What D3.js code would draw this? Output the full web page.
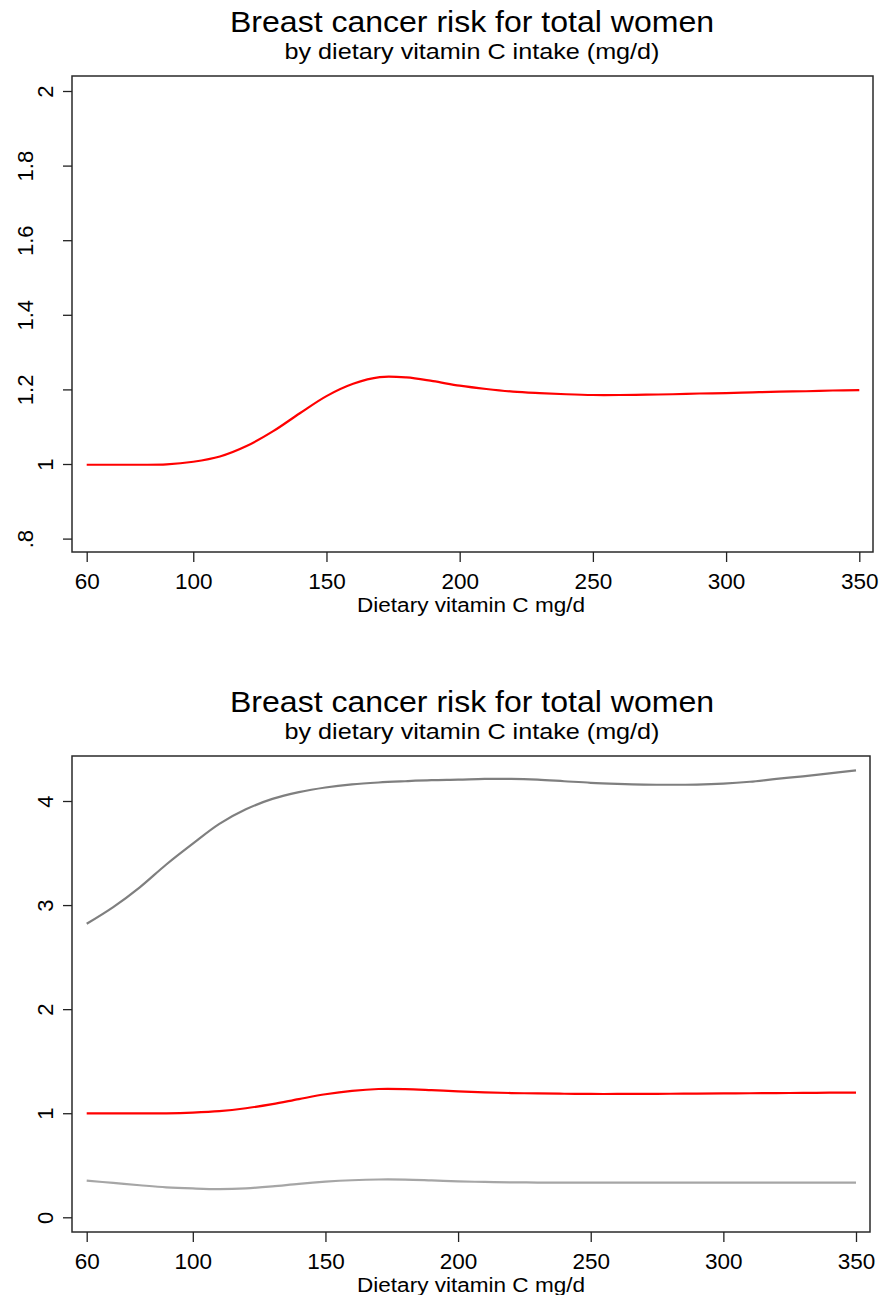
<!DOCTYPE html>
<html>
<head>
<meta charset="utf-8">
<style>
  body { margin: 0; background: #fff; }
  svg text { font-family: "Liberation Sans", Arial, sans-serif; fill: #000; }
</style>
</head>
<body>
<div id="chart"></div>
<script src="https://cdn.jsdelivr.net/npm/d3@7"></script>
<script>
// data
const vitC = [60, 70, 80, 90, 100, 110, 120, 130, 140, 150, 160, 170, 180, 190, 200,
              210, 220, 230, 240, 250, 260, 270, 280, 290, 300, 310, 320, 330, 340, 350];
const rrEst = [0.998, 0.998, 0.998, 0.999, 1.006, 1.02, 1.048, 1.088, 1.136, 1.182,
               1.215, 1.233, 1.232, 1.222, 1.21, 1.201, 1.194, 1.19, 1.187, 1.185,
               1.185, 1.186, 1.187, 1.189, 1.19, 1.192, 1.194, 1.195, 1.197, 1.198];
const ciUpper = [2.82, 2.98, 3.17, 3.39, 3.59, 3.78, 3.92, 4.02, 4.085, 4.13,
                 4.16, 4.178, 4.19, 4.2, 4.205, 4.212, 4.213, 4.205, 4.19, 4.175,
                 4.165, 4.158, 4.156, 4.158, 4.167, 4.185, 4.212, 4.237, 4.265, 4.294];
const ciLower = [0.352, 0.33, 0.308, 0.288, 0.277, 0.271, 0.278, 0.297, 0.322, 0.342,
                 0.356, 0.363, 0.362, 0.354, 0.345, 0.34, 0.336, 0.334, 0.333, 0.333,
                 0.333, 0.333, 0.333, 0.333, 0.333, 0.333, 0.333, 0.333, 0.333, 0.333];

const xTicks = [60, 100, 150, 200, 250, 300, 350];
const yTicksTop = [0.8, 1, 1.2, 1.4, 1.6, 1.8, 2];
const yTicksBottom = [0, 1, 2, 3, 4];

const titleText = 'Breast cancer risk for total women';
const subtitleText = 'by dietary vitamin C intake (mg/d)';
const xTitle = 'Dietary vitamin C mg/d';

const W = 882, H = 1295;
const svg = d3.select('#chart').append('svg')
  .attr('width', W).attr('height', H);

const fmt = v => {
  let s = String(v);
  if (s.startsWith('0.')) s = s.slice(1);
  return s;
};

function panel(cfg) {
  const g = svg.append('g').attr('transform', `translate(0,${cfg.top})`);
  const box = {x0: 72, x1: cfg.right, y0: 76, y1: 552};

  // x: domain 60..350 maps onto tick positions, y likewise
  const x = d3.scaleLinear().domain([60, 350]).range([86.7, cfg.x350]);
  const y = d3.scaleLinear().domain(cfg.yRef).range([cfg.yPix[0], cfg.yPix[1]]);

  // the reference text is a little wider than Arial, so stretch to fit
  g.append('text').attr('x', 472).attr('y', 32)
    .attr('text-anchor', 'middle').style('font-size', '29px')
    .attr('textLength', 484).attr('lengthAdjust', 'spacingAndGlyphs')
    .text(titleText);
  g.append('text').attr('x', 472).attr('y', 59)
    .attr('text-anchor', 'middle').style('font-size', '22px')
    .attr('textLength', 375).attr('lengthAdjust', 'spacingAndGlyphs')
    .text(subtitleText);

  const line = d3.line().x((d, i) => x(vitC[i])).y(d => y(d)).curve(d3.curveCatmullRom);

  cfg.series.forEach(s => {
    g.append('path').datum(s.values)
      .attr('d', line)
      .attr('fill', 'none')
      .attr('stroke', s.color)
      .attr('stroke-width', 2.2);
  });

  // plot region outline
  g.append('rect')
    .attr('x', box.x0).attr('y', box.y0)
    .attr('width', box.x1 - box.x0).attr('height', box.y1 - box.y0)
    .attr('fill', 'none').attr('stroke', '#2a2a2a').attr('stroke-width', 1.5);

  // x axis
  const xa = g.append('g').attr('transform', `translate(0,${box.y1})`)
    .call(d3.axisBottom(x).tickValues(xTicks).tickSize(10).tickPadding(6).tickSizeOuter(0));
  xa.select('.domain').remove();
  xa.selectAll('line').attr('stroke', '#222').attr('stroke-width', 1.3);
  xa.selectAll('text').style('font-size', '22.5px').attr('fill', '#000')
    .attr('y', 36.5).attr('dy', 0);

  // y axis, labels rotated
  const ya = g.append('g').attr('transform', `translate(${box.x0},0)`)
    .call(d3.axisLeft(y).tickValues(cfg.yTicks).tickSize(9).tickFormat(fmt).tickSizeOuter(0));
  ya.select('.domain').remove();
  ya.selectAll('line').attr('stroke', '#222').attr('stroke-width', 1.3);
  ya.selectAll('.tick text')
    .style('font-size', '22px')
    .attr('text-anchor', 'middle')
    .attr('x', null).attr('dy', null)
    .attr('transform', d => {
      const bx = fmt(d).length > 1 ? 32.5 - box.x0 : 53 - box.x0;
      return `translate(${bx},0) rotate(-90)`;
    });

  g.append('text').attr('x', 471).attr('y', 612)
    .attr('text-anchor', 'middle').style('font-size', '20px')
    .attr('textLength', 228).attr('lengthAdjust', 'spacingAndGlyphs')
    .text(xTitle);
}

panel({
  top: 0, right: 873, x350: 859.3,
  yRef: [1, 2], yPix: [464, 91], yTicks: yTicksTop,
  series: [{values: rrEst, color: '#ff0000'}]
});

panel({
  top: 680, right: 870, x350: 856,
  yRef: [0, 4], yPix: [537.3, 121], yTicks: yTicksBottom,
  series: [
    {values: ciUpper, color: '#7f7f7f'},
    {values: ciLower, color: '#a6a6a6'},
    {values: rrEst, color: '#ff0000'}
  ]
});
</script>
</body>
</html>
